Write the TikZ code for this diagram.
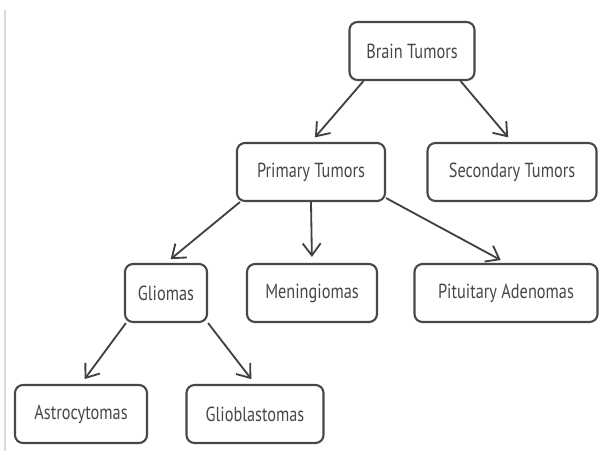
\documentclass[tikz,border=0pt]{standalone}
\usepackage{fontspec}
\setmainfont[FakeStretch=0.8]{PT Sans}
\usetikzlibrary{calc, arrows.meta}
\tikzset{
    box/.style={draw=black!72, line width=1.5pt, rounded corners=0.2cm, minimum height=1.45cm,
        inner xsep=0.1cm, text=black!72, font=\fontsize{14.5}{16}\selectfont},
    arr/.style={draw=black!75, line width=1.3pt, -{Straight Barb[length=0.3cm, width=0.45cm]}, shorten >=0.15cm}
}

\begin{document}
\begin{tikzpicture}[x=0.025cm, y=-0.025cm]
                \useasboundingbox (0,0) rectangle (599,451);
                \draw[black!14, line width=1.4pt] (5,10) -- (5,451);
                % nodes
                \node[box, minimum width=3.125cm] (brain) at (412,51) {Brain Tumors};
                \node[box, minimum width=3.7cm] (primary) at (311,172) {Primary Tumors};
                \node[box, minimum width=4.225cm] (secondary) at (512,172) {Secondary Tumors};
                \node[box, minimum width=2.05cm] (gliomas) at (166,293) {Gliomas};
                \node[box, minimum width=3.25cm] (menin) at (312,293) {Meningiomas};
                \node[box, minimum width=4.575cm] (pituit) at (506,293) {Pituitary Adenomas};
                \node[box, minimum width=3.3cm] (astro) at (81,414) {Astrocytomas};
                \node[box, minimum width=3.425cm] (gliob) at (255,414) {Glioblastomas};
                % arrows
                \draw[arr] ([xshift=0.375cm]brain.south west) -- (primary.north);
                \draw[arr] ([xshift=-0.375cm]brain.south east) -- (secondary.north);
                \draw[arr] ([xshift=0.1cm]primary.south west) -- (gliomas.north);
                \draw[arr] (primary.south) -- (menin.north);
                \draw[arr] ([yshift=0.1cm]primary.south east) -- (pituit.north);
                \draw[arr] ([xshift=0.05cm]gliomas.south west) -- (astro.north);
                \draw[arr] (gliomas.south east) -- (gliob.north);
            \end{tikzpicture}
\end{document}
